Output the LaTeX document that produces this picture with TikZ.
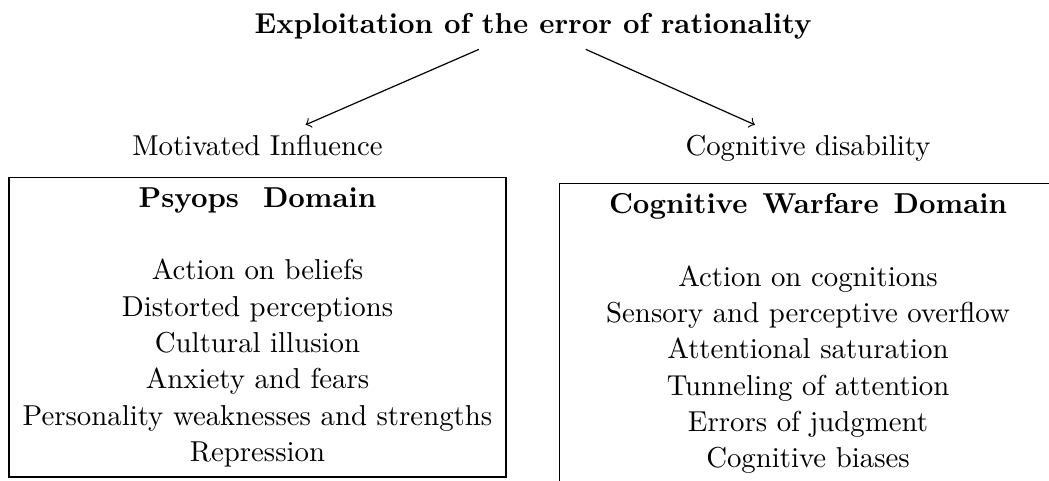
\documentclass[tikz,border=0pt]{standalone}
\begin{document}
\begin{tikzpicture}[x=0.3333pt, y=-0.3333pt,
  every node/.style={font=\fontsize{9.6pt}{12.1pt}\selectfont},
  lbl/.style={anchor=base, inner sep=3.33pt},
  domainbox/.style={draw, anchor=north, align=center, minimum width=165.7pt, inner sep=3.33pt},
  link/.style={->}]
\useasboundingbox (0,0) rectangle (1049,480);
\clip (0,0) rectangle (1049,480);
\node[lbl] (title) at (533,33) {\textbf{Exploitation of the error of rationality}};
\node[lbl] (motiv) at (257.5,155.7) {Motivated Influence};
\node[lbl] (cogdis) at (808,155.7) {Cognitive disability};
\draw[link] (title) -- (motiv);
\draw[link] (title) -- (cogdis);
\node[domainbox] (psy) at (257.5,177) {\textbf{Psyops\hspace{8pt}Domain}\\[12.1pt]
Action on beliefs\\
Distorted perceptions\\
Cultural illusion\\
Anxiety and fears\\
Personality weaknesses and strengths\\
Repression};
\node[domainbox] (cw) at (808,183) {\textbf{Cognitive\hspace{5pt}Warfare\hspace{5pt}Domain}\\[12.1pt]
Action on cognitions\\
Sensory and perceptive overflow\\
Attentional saturation\\
Tunneling of attention\\
Errors of judgment\\
Cognitive biases};
\end{tikzpicture}
\end{document}
